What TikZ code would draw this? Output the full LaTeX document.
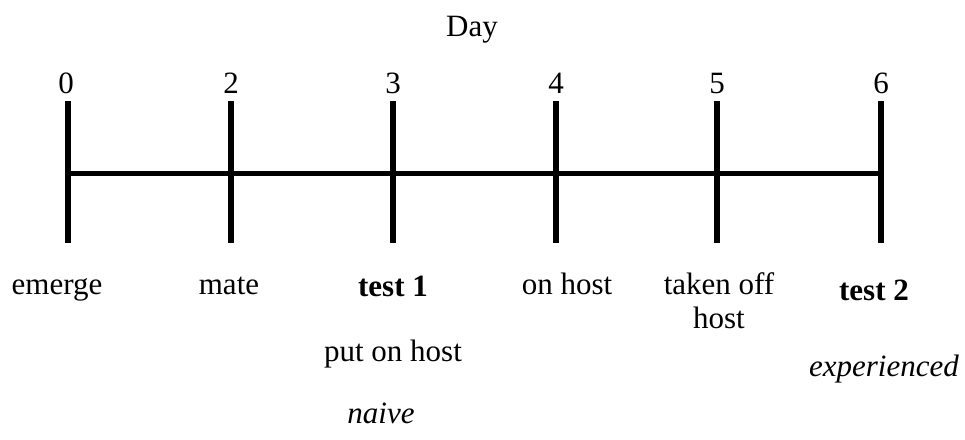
\documentclass[tikz,border=0pt]{standalone}
\usepackage{fontspec}
\setmainfont{Liberation Serif}
\begin{document}
\begin{tikzpicture}[x=1pt,y=-1pt,
  lbl/.style={anchor=base,inner sep=0pt,font=\fontsize{31}{33}\selectfont},
  tickline/.style={line width=6pt},
  axisline/.style={line width=5pt}]
\useasboundingbox (0,0) rectangle (965,439);
\node[lbl] (day) at (472,36) {Day};
% tick coordinates
\foreach \n/\x in {a/68,b/231,c/393,d/556,e/717,f/881}{
  \coordinate (\n-top) at (\x,101);
  \coordinate (\n-mid) at (\x,173);
  \coordinate (\n-bot) at (\x,243);
}
\draw[axisline] (a-mid) -- (f-mid);
\foreach \n in {a,b,c,d,e,f}{
  \draw[tickline] (\n-top) -- (\n-bot);
}
% day numbers
\node[lbl] (n0) at (66,93) {0};
\node[lbl] (n2) at (231,93) {2};
\node[lbl] (n3) at (393,93) {3};
\node[lbl] (n4) at (556,93) {4};
\node[lbl] (n5) at (717,93) {5};
\node[lbl] (n6) at (881,93) {6};
% labels
\node[lbl] (emerge) at (57,294) {emerge};
\node[lbl] (mate) at (229,294) {mate};
\node[lbl] (test1) at (393,296) {\bfseries test 1};
\node[lbl] (onhost) at (567,294) {on host};
\node[lbl] (takenoff) at (719,294) {taken off};
\node[lbl] (host) at (719,328) {host};
\node[lbl] (test2) at (874,300) {\bfseries test 2};
\node[lbl] (putonhost) at (393,361) {put on host};
\node[lbl] (experienced) at (884,376) {\itshape experienced};
\node[lbl] (naive) at (381,423) {\itshape naive};
\end{tikzpicture}
\end{document}
